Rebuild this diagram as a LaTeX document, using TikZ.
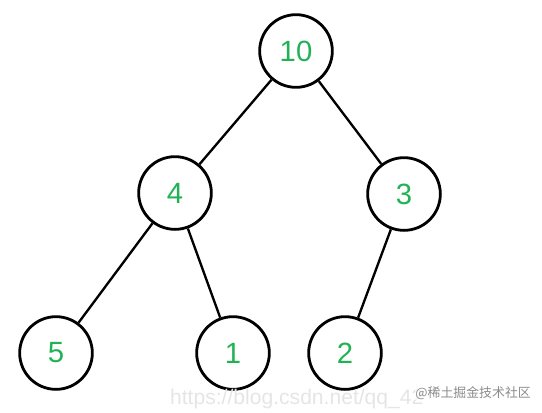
\documentclass[tikz,border=0pt]{standalone}
\usepackage{fontspec}
\setmainfont{Liberation Sans}
\newfontfamily\cjk{Noto Sans CJK SC}
\usepackage{xcolor}
\definecolor{keygreen}{RGB}{34,178,86}

\begin{document}
\begin{tikzpicture}[x=0.03cm,y=-0.03cm,
	treenode/.style={circle, draw, line width=2.4pt, minimum size=2.18cm, inner sep=0pt,
		text=keygreen, font=\fontsize{25}{25}\selectfont},
	edgeline/.style={line width=2pt}]
	\useasboundingbox (0,0) rectangle (542,412);
	\foreach 
	\name/\x/\y/\key
	in
	{
		n10/296/51/10,
		n4/175/193/4,
		n3/404/194/3,
		n5/56/353/5,
		n1/233/353/1,
		n2/345/353/2
	}
	{
		\node[treenode] (\name) at (\x,\y) {\key};
	}
	\foreach \a/\b in {n10/n4, n10/n3, n4/n5, n4/n1, n3/n2}
	{
		\draw[edgeline] (\a) -- (\b);
	}
	% watermark
	\node[anchor=base west, text=black!10, font=\fontsize{18}{18}\selectfont] (wmurl) at (166,404) {https://blog.csdn.net/qq\_42};
	\node[anchor=east, inner sep=0pt, fill=white, fill opacity=0.6, text opacity=1, text=black!45, font=\cjk\fontsize{11}{12}\selectfont] (wmcjk) at (531,393) {@稀土掘金技术社区};
\end{tikzpicture}
\end{document}
